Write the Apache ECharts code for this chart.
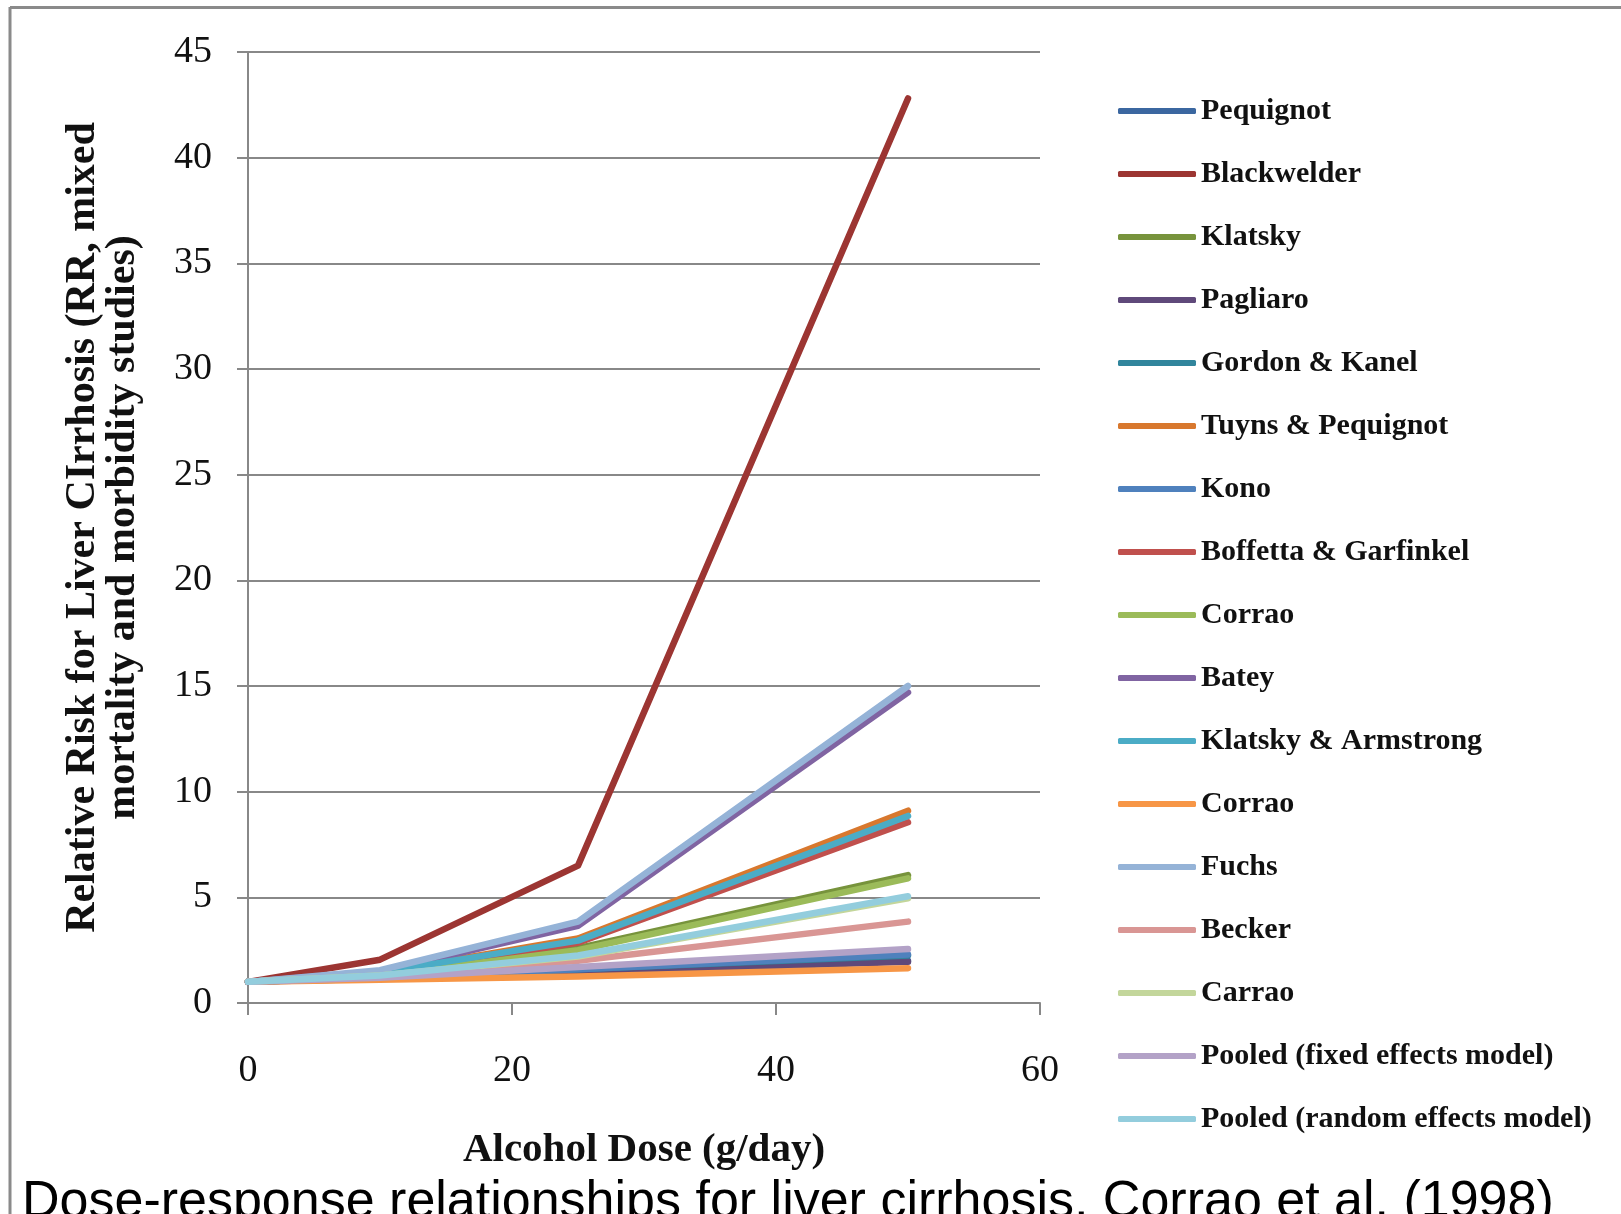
<!DOCTYPE html>
<html>
<head>
<meta charset="utf-8">
<script src="https://cdn.jsdelivr.net/npm/echarts@6/dist/echarts.min.js"></script>
<style>
html,body{margin:0;padding:0;background:#fff;overflow:hidden;}
#chart{width:1621px;height:1214px;}
</style>
</head>
<body>
<div id="chart"></div>
<script>
// Data
const doses = [0, 10, 25, 50];
const seriesNames = [
  "Pequignot", "Blackwelder", "Klatsky", "Pagliaro", "Gordon & Kanel",
  "Tuyns & Pequignot", "Kono", "Boffetta & Garfinkel", "Corrao", "Batey",
  "Klatsky & Armstrong", "Corrao ", "Fuchs", "Becker", "Carrao",
  "Pooled (fixed effects model)", "Pooled (random effects model)"
];
const pequignot = [1, 1.2, 1.5, 2.0];
const blackwelder = [1, 2.05, 6.5, 42.8];
const klatsky = [1, 1.3, 2.6, 6.05];
const pagliaro = [1, 1.15, 1.45, 1.95];
const gordonKanel = [1, 1.2, 1.6, 2.25];
const tuynsPequignot = [1, 1.45, 3.05, 9.1];
const kono = [1, 1.2, 1.6, 2.3];
const boffettaGarfinkel = [1, 1.4, 2.85, 8.55];
const corrao1 = [1, 1.3, 2.5, 5.9];
const batey = [1, 1.5, 3.65, 14.7];
const klatskyArmstrong = [1, 1.45, 2.95, 8.85];
const corrao2 = [1, 1.1, 1.25, 1.65];
const fuchs = [1, 1.55, 3.85, 15.0];
const becker = [1, 1.25, 2.0, 3.85];
const carrao = [1, 1.3, 2.2, 4.95];
const pooledFixed = [1, 1.2, 1.7, 2.55];
const pooledRandom = [1, 1.3, 2.25, 5.05];
const allValues = [pequignot, blackwelder, klatsky, pagliaro, gordonKanel,
  tuynsPequignot, kono, boffettaGarfinkel, corrao1, batey,
  klatskyArmstrong, corrao2, fuchs, becker, carrao, pooledFixed, pooledRandom];
const xTicks = [0, 20, 40, 60];
const yTicks = [0, 5, 10, 15, 20, 25, 30, 35, 40, 45];
const caption = "Dose-response relationships for liver cirrhosis, Corrao et al. (1998)";

const colors = ["#3B67A0", "#9C3532", "#77933C", "#5F497A", "#31859C", "#D8782E",
  "#4F81BD", "#C0504D", "#9BBB59", "#8064A2", "#4BACC6", "#F79646",
  "#95B3D7", "#D99694", "#C3D69B", "#B3A2C7", "#93CDDD"];

const serif = "'Liberation Serif', 'DejaVu Serif', serif";
const gridColor = "#888888";

const chart = echarts.init(document.getElementById('chart'), null, {renderer: 'canvas'});

const series = seriesNames.map((name, i) => ({
  name: name,
  type: 'line',
  data: doses.map((d, j) => [d, allValues[i][j]]),
  showSymbol: false,
  symbol: 'none',
  lineStyle: {color: colors[i], width: 6.5, cap: 'round', join: 'round'},
  itemStyle: {color: colors[i]},
  emphasis: {disabled: true},
  animation: false
}));

chart.setOption({
  animation: false,
  color: colors,
  grid: {left: 248, right: 581, top: 52, bottom: 211, containLabel: false},
  xAxis: {
    type: 'value', min: 0, max: 60, interval: 20,
    name: 'Alcohol Dose (g/day)', nameLocation: 'middle', nameGap: 127,
    nameTextStyle: {fontFamily: serif, fontWeight: 'bold', fontSize: 41, color: '#111'},
    axisLine: {show: true, lineStyle: {color: gridColor, width: 2}},
    axisTick: {show: true, length: 12, lineStyle: {color: gridColor, width: 2}},
    axisLabel: {fontFamily: serif, fontSize: 38, color: '#111', margin: 49},
    splitLine: {show: false}
  },
  yAxis: {
    type: 'value', min: 0, max: 45, interval: 5,
    name: 'Relative Risk for Liver CIrrhosis (RR, mixed\nmortality and morbidity studies)',
    nameLocation: 'middle', nameGap: 105, nameRotate: 90,
    nameTextStyle: {fontFamily: serif, fontWeight: 'bold', fontSize: 42, color: '#111', lineHeight: 40, align: 'center'},
    axisLine: {show: true, lineStyle: {color: gridColor, width: 2}},
    axisTick: {show: true, length: 11, lineStyle: {color: gridColor, width: 2}},
    axisLabel: {fontFamily: serif, fontSize: 38, color: '#111', margin: 36},
    splitLine: {show: true, lineStyle: {color: gridColor, width: 2}}
  },
  legend: {
    orient: 'vertical', left: 1113, top: 91,
    itemWidth: 78, itemHeight: 6, itemGap: 33, icon: 'roundRect',
    formatter: (n) => n.trim(),
    textStyle: {fontFamily: serif, fontWeight: 'bold', fontSize: 30, color: '#111', lineHeight: 30},
    data: seriesNames.map((n, i) => ({name: n, itemStyle: {color: colors[i]}}))
  },
  graphic: [
    {type: 'line', shape: {x1: 10, y1: 7.5, x2: 1621, y2: 7.5}, style: {stroke: '#8a8a8a', lineWidth: 3}, silent: true},
    {type: 'line', shape: {x1: 10, y1: 7, x2: 10, y2: 1214}, style: {stroke: '#8a8a8a', lineWidth: 3}, silent: true},
    {type: 'text', left: 22, top: 1177, silent: true,
      style: {text: caption, font: "52px 'Liberation Sans', Arial, sans-serif", fill: '#000'}}
  ],
  series: series
});
</script>
</body>
</html>
